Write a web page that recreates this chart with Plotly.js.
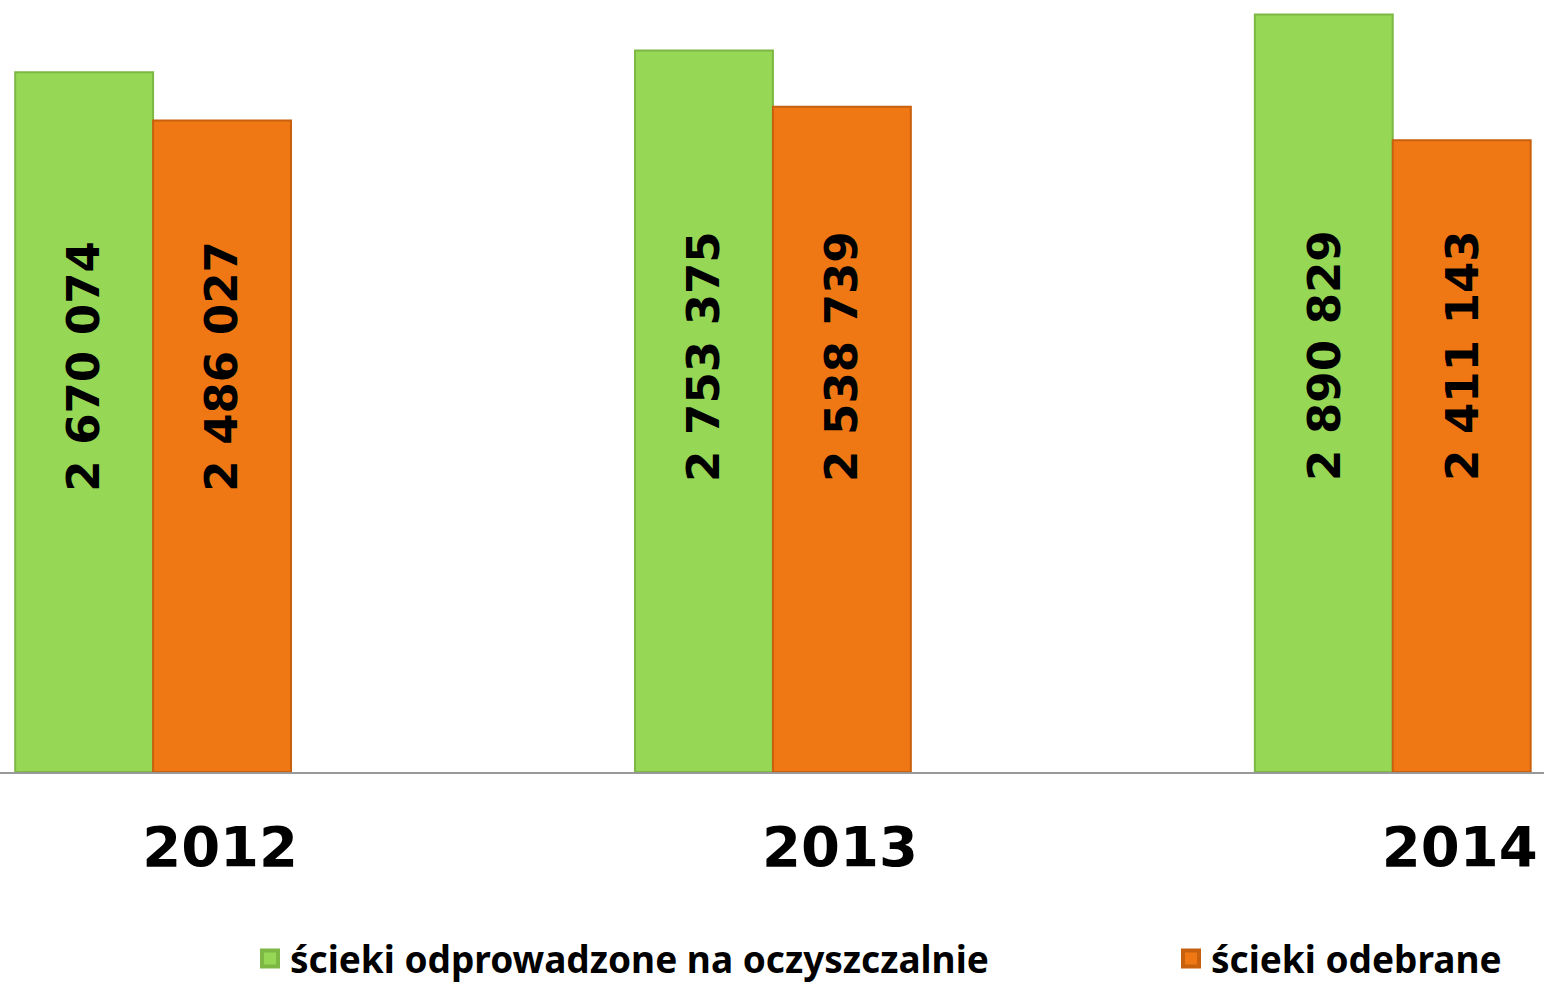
<!DOCTYPE html>
<html>
<head>
<meta charset="utf-8">
<script src="https://cdn.plot.ly/plotly-3.0.1.min.js"></script>
<style>html,body{margin:0;padding:0;background:#fff;}#chart{width:1544px;height:990px;}</style>
</head>
<body>
<div id="chart"></div>
<script>
const years = ['2012', '2013', '2014'];
const seriesNames = ['ścieki odprowadzone na oczyszczalnie', 'ścieki odebrane'];
const odprowadzone = [2670074, 2753375, 2890829];
const odebrane = [2486027, 2538739, 2411143];

function fmt(v) {
  return String(v).replace(/\B(?=(\d{3})+(?!\d))/g, ' ');
}

const green = '#96D755', greenLine = '#7DB845';
const orange = '#F07814', orangeLine = '#C8600E';

const traces = [
  {type: 'bar', x: years, y: odprowadzone, name: seriesNames[0], showlegend: false,
   marker: {color: green, line: {color: greenLine, width: 2}}, hoverinfo: 'none'},
  {type: 'bar', x: years, y: odebrane, name: seriesNames[1], showlegend: false,
   marker: {color: orange, line: {color: orangeLine, width: 2}}, hoverinfo: 'none'},
  // legend entries (larger square symbols)
  {type: 'scatter', mode: 'markers', x: [null], y: [null], name: seriesNames[0], legend: 'legend',
   marker: {symbol: 'square', size: 16, color: green, line: {color: greenLine, width: 4}}, hoverinfo: 'none'},
  {type: 'scatter', mode: 'markers', x: [null], y: [null], name: seriesNames[1], legend: 'legend2',
   marker: {symbol: 'square', size: 16, color: orange, line: {color: orangeLine, width: 4}}, hoverinfo: 'none'}
];

const labelFont = {family: 'DejaVu Sans', size: 45, color: '#000'};
const annotations = [];
years.forEach((yr, i) => {
  const mid = 0.6 * (odprowadzone[i] + odebrane[i]) / 2;
  annotations.push({x: i, y: mid, xref: 'x', yref: 'y', text: '<b>' + fmt(odprowadzone[i]) + '</b>',
    textangle: -90, showarrow: false, xshift: -69, font: labelFont});
  annotations.push({x: i, y: mid, xref: 'x', yref: 'y', text: '<b>' + fmt(odebrane[i]) + '</b>',
    textangle: -90, showarrow: false, xshift: 69, font: labelFont});
});

const legendFont = {family: 'Noto Sans', size: 37, color: '#000', weight: 'bold'};
const legendY = 31 / 990;

const layout = {
  width: 1544, height: 990,
  margin: {l: 0, r: 0, t: 0, b: 218, autoexpand: false},
  paper_bgcolor: '#fff', plot_bgcolor: '#fff',
  barmode: 'group', bargap: 0.555, bargroupgap: 0,
  xaxis: {type: 'category', range: [-0.247, 2.244], showgrid: false, zeroline: false,
    showline: true, linecolor: '#999', linewidth: 2, ticks: '',
    ticklabelshift: 67, ticklabelstandoff: 25,
    tickfont: {family: 'DejaVu Sans', size: 56, color: '#000', weight: 'bold'}},
  yaxis: {range: [0, 2946000], showticklabels: false, showline: false, ticks: '', showgrid: false, zeroline: false},
  showlegend: true,
  legend: {orientation: 'h', x: 250 / 1544, xanchor: 'left', y: legendY, yref: 'container', yanchor: 'middle',
    bgcolor: 'rgba(0,0,0,0)', font: legendFont},
  legend2: {orientation: 'h', x: 1171 / 1544, xanchor: 'left', y: legendY, yref: 'container', yanchor: 'middle',
    bgcolor: 'rgba(0,0,0,0)', font: legendFont},
  annotations: annotations
};

Plotly.newPlot('chart', traces, layout, {displayModeBar: false, staticPlot: true});
</script>
</body>
</html>
